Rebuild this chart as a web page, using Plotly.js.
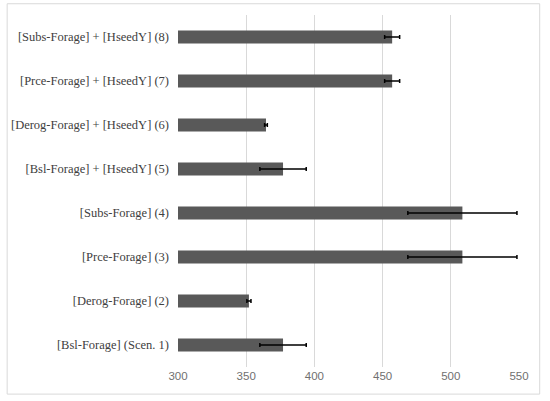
<!DOCTYPE html>
<html>
<head>
<meta charset="utf-8">
<script src="https://cdn.plot.ly/plotly-3.0.1.min.js"></script>
<style>
  html, body { margin: 0; padding: 0; background: #fff; }
  #chart { width: 550px; height: 401px; }
</style>
</head>
<body>
<div id="chart"></div>
<script>
// scenarios, bottom to top
const scenarios = [
  "[Bsl-Forage] (Scen. 1)",
  "[Derog-Forage] (2)",
  "[Prce-Forage] (3)",
  "[Subs-Forage] (4)",
  "[Bsl-Forage] + [HseedY] (5)",
  "[Derog-Forage] + [HseedY] (6)",
  "[Prce-Forage] + [HseedY] (7)",
  "[Subs-Forage] + [HseedY] (8)"
];
const means = [377, 352, 508.5, 508.5, 377, 364.5, 457, 457];
const errs = [17, 1.5, 40, 40, 17, 1, 5.5, 5.5];
const xTicks = [300, 350, 400, 450, 500, 550];

const data = [{
  type: "bar",
  orientation: "h",
  y: scenarios,
  x: means,
  width: 0.3,
  marker: { color: "#595959", line: { width: 0 } },
  error_x: { type: "data", array: errs, visible: true, color: "#000", thickness: 1.5, width: 2 },
  hoverinfo: "x+y"
}];

const layout = {
  width: 550,
  height: 401,
  margin: { l: 178, r: 31, t: 15, b: 34 },
  paper_bgcolor: "#fff",
  plot_bgcolor: "#fff",
  showlegend: false,
  xaxis: {
    range: [300, 550],
    tickvals: xTicks,
    showgrid: true,
    gridcolor: "#d9d9d9",
    gridwidth: 1,
    zeroline: false,
    showline: false,
    ticks: "",
    tickfont: { family: "'Liberation Sans', Arial, sans-serif", size: 11.5, color: "#707070" }
  },
  yaxis: {
    type: "category",
    categoryorder: "array",
    categoryarray: scenarios,
    showgrid: false,
    showline: false,
    ticks: "",
    ticklabelstandoff: 8,
    tickfont: { family: "'Times New Roman', 'Liberation Serif', 'DejaVu Serif', serif", size: 12.5, color: "#404040" }
  },
  shapes: [
    {
      type: "rect", xref: "paper", yref: "paper",
      x0: -0.501, x1: 1.0607, y0: -0.077, y1: 1.032,
      line: { color: "#d9d9d9", width: 1 }
    }
  ]
};

Plotly.newPlot("chart", data, layout, { displayModeBar: false, staticPlot: true });
</script>
</body>
</html>
